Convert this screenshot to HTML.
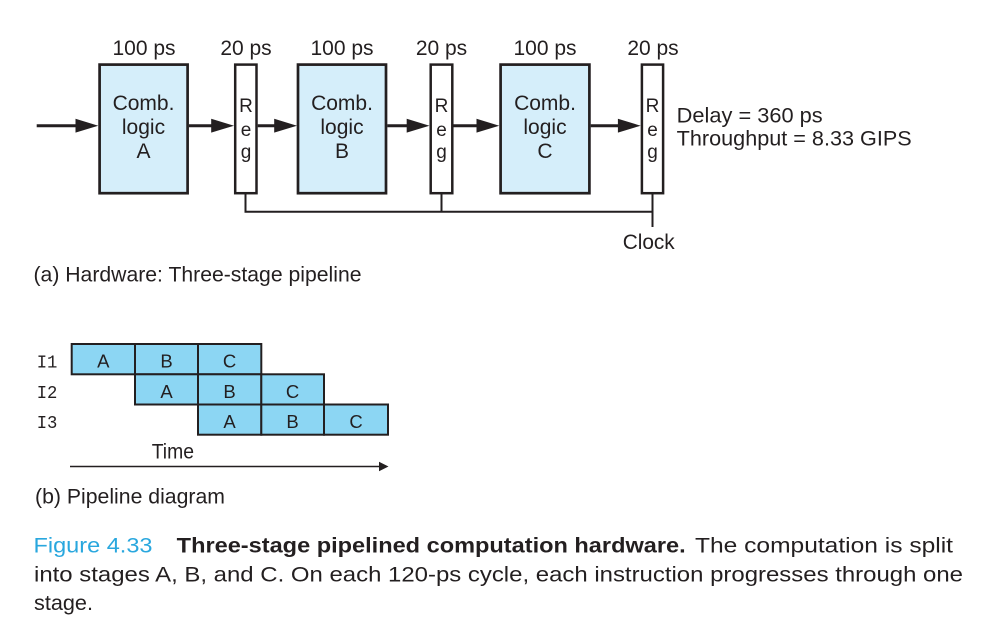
<!DOCTYPE html>
<html>
<head>
<meta charset="utf-8">
<style>
html,body{margin:0;padding:0;background:#fff;}
svg{display:block;}
text{font-family:"Liberation Sans",Arial,sans-serif;fill:#231f20;}
.mono{font-family:"Liberation Mono","Courier New",monospace;}
</style>
</head>
<body>
<svg width="991" height="643" viewBox="0 0 991 643" xmlns="http://www.w3.org/2000/svg">
  <rect x="0" y="0" width="991" height="643" fill="#ffffff"/>

  <!-- top labels -->
  <g font-size="21" text-anchor="middle">
    <text x="144" y="55">100 ps</text>
    <text x="246" y="55">20 ps</text>
    <text x="342" y="55">100 ps</text>
    <text x="441.5" y="55">20 ps</text>
    <text x="545" y="55">100 ps</text>
    <text x="653" y="55">20 ps</text>
  </g>

  <!-- comb logic boxes -->
  <g fill="#d5eefa" stroke="#231f20" stroke-width="2.7">
    <rect x="99.6" y="64.6" width="88" height="128.6"/>
    <rect x="298" y="64.6" width="88" height="128.6"/>
    <rect x="500.6" y="64.6" width="88.8" height="128.6"/>
  </g>
  <!-- registers -->
  <g fill="#ffffff" stroke="#231f20" stroke-width="2.5">
    <rect x="235.2" y="64.6" width="21.3" height="128.6"/>
    <rect x="430.7" y="64.6" width="21.6" height="128.6"/>
    <rect x="641.9" y="64.6" width="21.2" height="128.6"/>
  </g>

  <!-- comb text -->
  <g font-size="21" text-anchor="middle">
    <text x="143.5" y="110">Comb.</text>
    <text x="143.5" y="134">logic</text>
    <text x="143.5" y="158">A</text>
    <text x="342" y="110">Comb.</text>
    <text x="342" y="134">logic</text>
    <text x="342" y="158">B</text>
    <text x="545" y="110">Comb.</text>
    <text x="545" y="134">logic</text>
    <text x="545" y="158">C</text>
  </g>
  <!-- reg text -->
  <g font-size="19" text-anchor="middle">
    <text x="246" y="112">R</text>
    <text x="246" y="136">e</text>
    <text x="246" y="158">g</text>
    <text x="441.5" y="112">R</text>
    <text x="441.5" y="136">e</text>
    <text x="441.5" y="158">g</text>
    <text x="652.5" y="112">R</text>
    <text x="652.5" y="136">e</text>
    <text x="652.5" y="158">g</text>
  </g>

  <!-- arrows -->
  <g stroke="#231f20" stroke-width="3">
    <line x1="36.7" y1="125.7" x2="77" y2="125.7"/>
    <line x1="189" y1="125.7" x2="213" y2="125.7"/>
    <line x1="257.7" y1="125.7" x2="276" y2="125.7"/>
    <line x1="387.3" y1="125.7" x2="409" y2="125.7"/>
    <line x1="453.5" y1="125.7" x2="478" y2="125.7"/>
    <line x1="590.7" y1="125.7" x2="620" y2="125.7"/>
  </g>
  <g fill="#231f20">
    <polygon points="98.3,125.7 75.5,118.8 75.5,132.6"/>
    <polygon points="234,125.7 211.2,118.8 211.2,132.6"/>
    <polygon points="297,125.7 274.2,118.8 274.2,132.6"/>
    <polygon points="429.5,125.7 406.7,118.8 406.7,132.6"/>
    <polygon points="499.3,125.7 476.5,118.8 476.5,132.6"/>
    <polygon points="640.7,125.7 617.9,118.8 617.9,132.6"/>
  </g>

  <!-- clock lines -->
  <g stroke="#231f20" stroke-width="2" fill="none">
    <polyline points="245.5,194 245.5,211.7 652.5,211.7"/>
    <line x1="441.5" y1="194" x2="441.5" y2="211.7"/>
    <line x1="652.5" y1="194" x2="652.5" y2="227"/>
  </g>
  <text x="622.7" y="249" font-size="21" textLength="52" lengthAdjust="spacingAndGlyphs">Clock</text>

  <text x="676.7" y="122.3" font-size="21" textLength="146" lengthAdjust="spacingAndGlyphs">Delay = 360 ps</text>
  <text x="676.7" y="145.7" font-size="21" textLength="235" lengthAdjust="spacingAndGlyphs">Throughput = 8.33 GIPS</text>

  <text x="33.5" y="281.7" font-size="21" textLength="328" lengthAdjust="spacingAndGlyphs">(a) Hardware: Three-stage pipeline</text>

  <!-- pipeline diagram -->
  <g fill="#8cd6f3" stroke="#231f20" stroke-width="2">
    <rect x="71.7" y="344" width="63.3" height="30.3"/>
    <rect x="135" y="344" width="63" height="30.3"/>
    <rect x="198" y="344" width="63.3" height="30.3"/>

    <rect x="135" y="374.3" width="63" height="30.2"/>
    <rect x="198" y="374.3" width="63.3" height="30.2"/>
    <rect x="261.3" y="374.3" width="62.7" height="30.2"/>

    <rect x="198" y="404.5" width="63.3" height="30.2"/>
    <rect x="261.3" y="404.5" width="62.7" height="30.2"/>
    <rect x="324" y="404.5" width="64" height="30.2"/>
  </g>
  <g font-size="18.5" text-anchor="middle">
    <text x="103.3" y="367.3">A</text>
    <text x="166.5" y="367.3">B</text>
    <text x="229.6" y="367.3">C</text>
    <text x="166.5" y="397.8">A</text>
    <text x="229.6" y="397.8">B</text>
    <text x="292.6" y="397.8">C</text>
    <text x="229.6" y="428">A</text>
    <text x="292.6" y="428">B</text>
    <text x="356" y="428">C</text>
  </g>
  <g font-size="18" class="mono">
    <text class="mono" x="36.7" y="367.3" textLength="20.7" lengthAdjust="spacingAndGlyphs">I1</text>
    <text class="mono" x="36.7" y="397.8" textLength="20.7" lengthAdjust="spacingAndGlyphs">I2</text>
    <text class="mono" x="36.7" y="428" textLength="20.7" lengthAdjust="spacingAndGlyphs">I3</text>
  </g>

  <text x="151.7" y="458.3" font-size="21" textLength="42.3" lengthAdjust="spacingAndGlyphs">Time</text>
  <line x1="70" y1="466.5" x2="381" y2="466.5" stroke="#231f20" stroke-width="1.5"/>
  <polygon points="388.5,466.5 379,461.7 379,471.3" fill="#231f20"/>

  <text x="35" y="503.3" font-size="21" textLength="190" lengthAdjust="spacingAndGlyphs">(b) Pipeline diagram</text>

  <!-- caption -->
  <text x="33.5" y="552.7" font-size="21" style="fill:#29a7de" textLength="119" lengthAdjust="spacingAndGlyphs">Figure 4.33</text>
  <text x="176.7" y="552.7" font-size="21" font-weight="bold" textLength="509" lengthAdjust="spacingAndGlyphs">Three-stage pipelined computation hardware.</text>
  <text x="695" y="552.7" font-size="21" textLength="258" lengthAdjust="spacingAndGlyphs">The computation is split</text>
  <text x="34" y="581.7" font-size="21" textLength="929" lengthAdjust="spacingAndGlyphs">into stages A, B, and C. On each 120-ps cycle, each instruction progresses through one</text>
  <text x="34" y="610" font-size="21" textLength="59" lengthAdjust="spacingAndGlyphs">stage.</text>
</svg>
</body>
</html>
